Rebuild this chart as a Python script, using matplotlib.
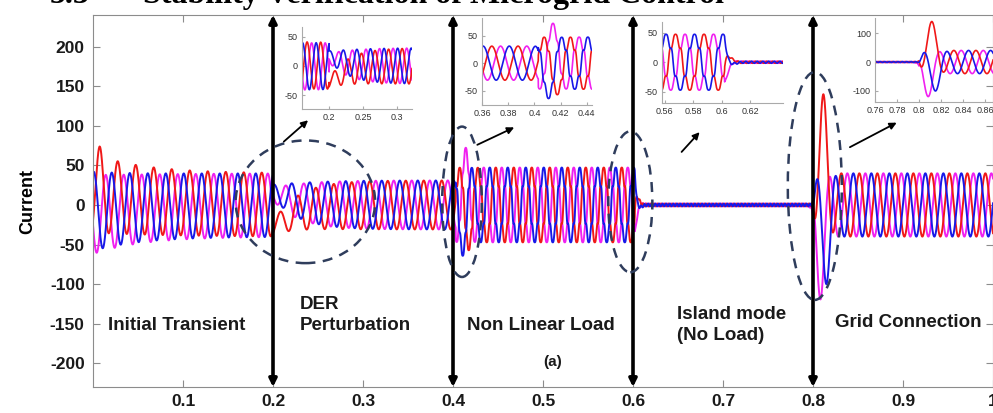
import numpy as np
import matplotlib.pyplot as plt
from matplotlib.patches import Ellipse

plt.rcParams['font.family'] = ['Liberation Sans', 'DejaVu Sans']
plt.rcParams['axes.unicode_minus'] = False

# ---- values ----
FREQ = 50  # Hz
phase_colors = ['#f01818', '#1818e8', '#f020f0']   # red, blue, magenta
phase_angle_deg = [-45, 75, -165]
draw_order = [2, 0, 1]

# operating segments of the waveform
seg_start = [0.0, 0.2, 0.403, 0.602, 0.8]
seg_amp = [40, 31, 45, 0, 40]
seg_amp_extra = [10, -23, 0, 45, -40]
seg_amp_tau = [0.05, 0.03, 1.0, 0.0025, 0.002]
seg_delay = [0, 0, 0, 0, 0.004]
seg_harm5 = [0, 0, 0.12, 0, 0]
seg_harm7 = [0, 0, 0.07, 0, 0]
seg_ripple = [0, 0, 0, 1.8, 0]

# dc offsets of each phase at the start of a segment
red_offset = [15, -30, 0, 0, 0]
blue_offset = [-8, 18, 0, 0, 0]
magenta_offset = [-12, 14, 0, 0, 0]
offset_tau = [0.06, 0.025, 1, 1, 1]

# transient peaks (phase, time, height, width)
peak_phase = [0, 0, 1, 2, 0, 2, 1]
peak_time = [0.0075, 0.4175, 0.4108, 0.4142, 0.8115, 0.8082, 0.8148]
peak_height = [12, -10, -17, 25, 100, -80, -60]
peak_width = [0.004, 0.005, 0.005, 0.005, 0.006, 0.006, 0.006]

mode_edges = [0.2, 0.4, 0.6, 0.8]
xticks = [0.1, 0.2, 0.3, 0.4, 0.5, 0.6, 0.7, 0.8, 0.9, 1.0]
xtick_labels = ['0.1', '0.2', '0.3', '0.4', '0.5', '0.6', '0.7', '0.8', '0.9', '1']
yticks = [-200, -150, -100, -50, 0, 50, 100, 150, 200]

# ---- build the three phase currents ----
t = np.linspace(0, 1, 20001)
idx = np.searchsorted(seg_start, t, side='right') - 1
dt = t - np.array(seg_start)[idx]
amp = np.array(seg_amp)[idx] + np.array(seg_amp_extra)[idx] * np.exp(-dt / np.array(seg_amp_tau)[idx])
theta = 2 * np.pi * FREQ * (t - np.array(seg_delay)[idx])
h5 = np.array(seg_harm5)[idx]
h7 = np.array(seg_harm7)[idx]
ripple = np.array(seg_ripple)[idx]
offsets = [red_offset, blue_offset, magenta_offset]

currents = []
for k in range(3):
    th = theta + np.deg2rad(phase_angle_deg[k])
    y = amp * (np.sin(th) + h5 * np.sin(5 * th) + h7 * np.sin(7 * th))
    y += np.array(offsets[k])[idx] * np.exp(-dt / np.array(offset_tau)[idx])
    y += ripple * np.sin(5 * th)
    for p, tp, hp, wp in zip(peak_phase, peak_time, peak_height, peak_width):
        if p == k:
            y += hp * np.exp(-((t - tp) / wp) ** 2)
    currents.append(y)

# ---- figure ----
W, H = 993, 413
fig = plt.figure(figsize=(W / 100, H / 100), dpi=100)


def px_axes(left, top, right, bottom):
    return fig.add_axes([left / W, (H - bottom) / H, (right - left) / W, (bottom - top) / H])


ax = px_axes(93, 15, 993, 387)
for k in draw_order:
    ax.plot(t, currents[k], color=phase_colors[k], lw=1.4)
ax.set_xlim(0, 1)
ax.set_ylim(-230, 240)
ax.set_xticks(xticks)
ax.set_xticklabels(xtick_labels)
ax.set_yticks(yticks)
ax.tick_params(direction='in', length=5, color='#8c8c8c', top=True, right=True,
               labelsize=12.5, labelcolor='#1a1a1a')
ax.tick_params(axis='x', pad=5)
ax.tick_params(axis='y', pad=6)
for lab in ax.get_xticklabels() + ax.get_yticklabels():
    lab.set_fontweight('bold')
for s in ax.spines.values():
    s.set_color('#8c8c8c')
    s.set_linewidth(0.8)
ax.set_ylabel('Current', fontsize=13, fontweight='bold', labelpad=10)

# mode boundaries
for xe in mode_edges:
    ax.annotate('', xy=(xe, -230), xytext=(xe, 240),
                arrowprops=dict(arrowstyle='<|-|>', lw=2.6, color='black',
                                mutation_scale=11, shrinkA=0, shrinkB=0),
                annotation_clip=False)

# zoomed regions
ell = [((0.236, 4), 0.155, 155), ((0.41, 4), 0.044, 190),
       ((0.597, 4), 0.049, 178), ((0.802, 24), 0.06, 288)]
for c, w, h in ell:
    ax.add_patch(Ellipse(c, w, h, fill=False, ec='#2f3d5c', lw=1.8,
                         linestyle=(0, (4, 3)), zorder=5))

arrows = [((0.212, 80), (0.239, 107)), ((0.427, 76), (0.468, 98)),
          ((0.654, 67), (0.674, 92)), ((0.841, 73), (0.893, 104))]
for tail, head in arrows:
    ax.annotate('', xy=head, xytext=tail,
                arrowprops=dict(arrowstyle='-|>', lw=1.3, color='black',
                                mutation_scale=10, shrinkA=0, shrinkB=0))

txt = dict(fontsize=13.5, fontweight='bold', color='#1a1a1a')
ax.text(0.0933, -152, 'Initial Transient', ha='center', va='center', **txt)
ax.text(0.23, -139, 'DER\nPerturbation', ha='left', va='center', linespacing=1.3, **txt)
ax.text(0.4156, -152, 'Non Linear Load', ha='left', va='center', **txt)
ax.text(0.511, -198, '(a)', ha='center', va='center', fontsize=11, fontweight='bold', color='#1a1a1a')
ax.text(0.649, -152, 'Island mode\n(No Load)', ha='left', va='center', linespacing=1.3, **txt)
ax.text(0.824, -148, 'Grid Connection', ha='left', va='center', **txt)

# insets
insets = [
    ((302, 27, 412, 109), (0.16, 0.322), (-74, 67), [0.2, 0.25, 0.3], ['0.2', '0.25', '0.3'], [-50, 0, 50]),
    ((482, 18, 592, 105), (0.36, 0.444), (-76, 82), [0.36, 0.38, 0.4, 0.42, 0.44],
     ['0.36', '0.38', '0.4', '0.42', '0.44'], [-50, 0, 50]),
    ((662, 22, 783, 103), (0.558, 0.643), (-69, 68), [0.56, 0.58, 0.6, 0.62],
     ['0.56', '0.58', '0.6', '0.62'], [-50, 0, 50]),
    ((875, 18, 993, 102), (0.763, 0.867), (-138, 152), [0.76, 0.78, 0.8, 0.82, 0.84, 0.86],
     ['0.76', '0.78', '0.8', '0.82', '0.84', '0.86'], [-100, 0, 100]),
]
for box, xl, yl, xt, xtl, yt in insets:
    ia = px_axes(*box)
    ia.set_facecolor('none')
    for k in draw_order:
        ia.plot(t, currents[k], color=phase_colors[k], lw=1.2)
    ia.set_xlim(*xl)
    ia.set_ylim(*yl)
    ia.set_xticks(xt)
    ia.set_xticklabels(xtl)
    ia.set_yticks(yt)
    ia.tick_params(direction='in', length=2, color='#aaaaaa', labelsize=6.5,
                   labelcolor='#333333', pad=3)
    for side in ['top', 'right']:
        ia.spines[side].set_visible(False)
    for side in ['left', 'bottom']:
        ia.spines[side].set_color('#aaaaaa')
        ia.spines[side].set_linewidth(0.8)

# section heading cut off at the top of the page
fig.text(50 / W, 1 - 3 / H, '5.3', fontsize=23, fontweight='bold',
         family='Liberation Serif', va='baseline', ha='left')
fig.text(143 / W, 1 - 3 / H, 'Stability Verification of Microgrid Control', fontsize=23,
         fontweight='bold', family='Liberation Serif', va='baseline', ha='left')

fig.savefig('out.png', dpi=100)
